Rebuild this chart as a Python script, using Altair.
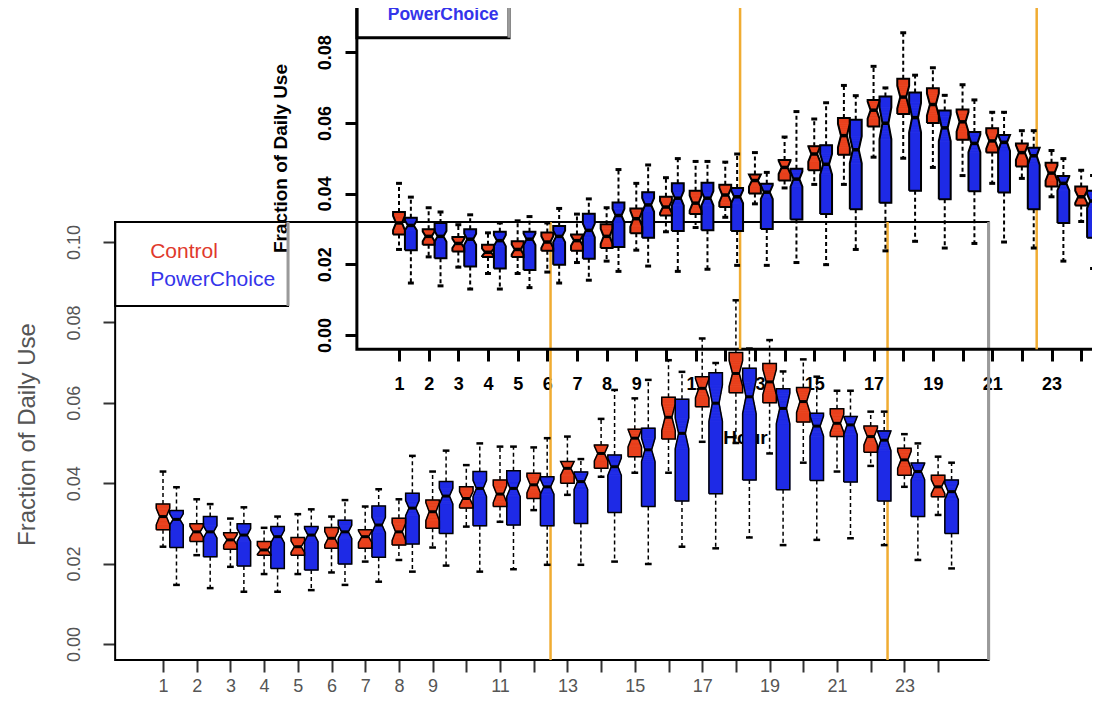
import altair as alt
import pandas as pd

# ---------------- data ----------------
hours = list(range(1, 25))

ctrl_lo  = [0.0242, 0.0221, 0.0192, 0.0174, 0.0174, 0.0178, 0.0205, 0.0209, 0.0240, 0.0292, 0.0304, 0.0333,
            0.0371, 0.0416, 0.0426, 0.0426, 0.0503, 0.0500, 0.0474, 0.0451, 0.0429, 0.0443, 0.0391, 0.0321]
ctrl_q1  = [0.0284, 0.0255, 0.0236, 0.0221, 0.0221, 0.0238, 0.0238, 0.0246, 0.0288, 0.0338, 0.0342, 0.0362,
            0.0400, 0.0437, 0.0466, 0.0510, 0.0590, 0.0625, 0.0600, 0.0552, 0.0516, 0.0477, 0.0420, 0.0366]
ctrl_med = [0.0317, 0.0279, 0.0259, 0.0234, 0.0242, 0.0263, 0.0267, 0.0279, 0.0329, 0.0362, 0.0373, 0.0396,
            0.0437, 0.0474, 0.0512, 0.0564, 0.0636, 0.0673, 0.0652, 0.0603, 0.0549, 0.0516, 0.0458, 0.0391]
ctrl_q3  = [0.0348, 0.0299, 0.0277, 0.0255, 0.0265, 0.0290, 0.0284, 0.0313, 0.0358, 0.0391, 0.0408, 0.0425,
            0.0454, 0.0495, 0.0534, 0.0614, 0.0665, 0.0725, 0.0698, 0.0638, 0.0585, 0.0542, 0.0487, 0.0420]
ctrl_hi  = [0.0429, 0.0360, 0.0312, 0.0289, 0.0323, 0.0317, 0.0342, 0.0360, 0.0429, 0.0445, 0.0491, 0.0489,
            0.0516, 0.0560, 0.0611, 0.0706, 0.0760, 0.0855, 0.0756, 0.0708, 0.0630, 0.0578, 0.0522, 0.0466]

pc_lo    = [0.0147, 0.0139, 0.0130, 0.0130, 0.0134, 0.0147, 0.0155, 0.0180, 0.0195, 0.0180, 0.0186, 0.0197,
            0.0197, 0.0205, 0.0199, 0.0242, 0.0238, 0.0265, 0.0246, 0.0259, 0.0263, 0.0246, 0.0209, 0.0188]
pc_q1    = [0.0240, 0.0217, 0.0194, 0.0188, 0.0184, 0.0199, 0.0216, 0.0249, 0.0275, 0.0294, 0.0296, 0.0294,
            0.0300, 0.0327, 0.0342, 0.0356, 0.0374, 0.0408, 0.0384, 0.0407, 0.0403, 0.0356, 0.0317, 0.0275]
pc_med   = [0.0310, 0.0279, 0.0271, 0.0267, 0.0271, 0.0279, 0.0296, 0.0338, 0.0368, 0.0387, 0.0387, 0.0391,
            0.0404, 0.0441, 0.0483, 0.0524, 0.0599, 0.0615, 0.0586, 0.0542, 0.0545, 0.0507, 0.0429, 0.0379]
pc_q3    = [0.0332, 0.0317, 0.0299, 0.0292, 0.0292, 0.0308, 0.0343, 0.0375, 0.0404, 0.0429, 0.0431, 0.0416,
            0.0428, 0.0470, 0.0537, 0.0609, 0.0675, 0.0686, 0.0635, 0.0574, 0.0566, 0.0530, 0.0450, 0.0408]
pc_hi    = [0.0390, 0.0348, 0.0340, 0.0317, 0.0335, 0.0358, 0.0385, 0.0468, 0.0481, 0.0499, 0.0491, 0.0512,
            0.0460, 0.0632, 0.0657, 0.0677, 0.0699, 0.0735, 0.0678, 0.0665, 0.0630, 0.0578, 0.0499, 0.0451]

groups = ["Control", "PowerChoice"]
event_hours = [12.5, 22.5]
x_ticks = hours
y_ticks = [0.0, 0.02, 0.04, 0.06, 0.08, 0.10]
x_title = "Hour"
y_title = "Fraction of Daily Use"

# ---------------- styles / layout ----------------
FONT = "Liberation Sans"
box_fill = {"Control": "#E8401C", "PowerChoice": "#1E2AE6"}
legend_color = {"Control": "#E0392B", "PowerChoice": "#3434EA"}
ORANGE = "#F0AC32"
W, H = 1084, 697
x_lim = [-0.42, 25.5]
y_lim = [-0.004, 0.105]
group_offset = {"Control": 0.0, "PowerChoice": 0.4}
HALF = 0.2
notch_k = {"Control": 0.32, "PowerChoice": 0.15}
legend_box_x = [x_lim[0], 4.71]
legend_box_y = [0.0841, y_lim[1]]
legend_text_x = 0.62
legend_text_y = [0.0975, 0.0905]
M = 6  # slices per half notch

stats = {
    "Control": (ctrl_lo, ctrl_q1, ctrl_med, ctrl_q3, ctrl_hi),
    "PowerChoice": (pc_lo, pc_q1, pc_med, pc_q3, pc_hi),
}

slice_rows, outline_rows, whisk_rows, med_rows = [], [], [], []
for g in groups:
    lo, q1, md, q3, hi = stats[g]
    for i, h in enumerate(hours):
        xc = h + group_offset[g]
        iqr = q3[i] - q1[i]
        nl = max(q1[i], md[i] - notch_k[g] * iqr)
        nh = min(q3[i], md[i] + notch_k[g] * iqr)
        segs = [(q1[i], nl, 1.0)]
        for j in range(M):
            ya = nl + (md[i] - nl) * j / M
            yb = nl + (md[i] - nl) * (j + 1) / M
            segs.append((ya, yb, 1 - 0.5 * (j + 0.5) / M))
        for j in range(M):
            ya = md[i] + (nh - md[i]) * j / M
            yb = md[i] + (nh - md[i]) * (j + 1) / M
            segs.append((ya, yb, 0.5 + 0.5 * (j + 0.5) / M))
        segs.append((nh, q3[i], 1.0))
        for ya, yb, f in segs:
            slice_rows.append(dict(ya=ya, yb=yb, xa=xc - HALF * f, xb=xc + HALF * f, fill=box_fill[g]))
        pts = [(-1, q1[i]), (-1, nl), (-0.5, md[i]), (-1, nh), (-1, q3[i]),
               (1, q3[i]), (1, nh), (0.5, md[i]), (1, nl), (1, q1[i]), (-1, q1[i])]
        for k, (f, yy) in enumerate(pts):
            outline_rows.append(dict(box=f"{g}-{h}", k=k, ox=xc + HALF * f, oy=yy))
        for a, b in [(q3[i], hi[i]), (q1[i], lo[i])]:
            whisk_rows.append(dict(xc=xc, y0=a, y1=b, cl=xc - HALF / 2, cr=xc + HALF / 2))
        med_rows.append(dict(ml=xc - HALF / 2, mr=xc + HALF / 2, med=md[i]))

slice_df = pd.DataFrame(slice_rows)
outline_df = pd.DataFrame(outline_rows)
whisk_df = pd.DataFrame(whisk_rows)
med_df = pd.DataFrame(med_rows)
frame_df = pd.DataFrame({"x0": [x_lim[0]], "x1": [x_lim[1]], "y0": [y_lim[0]], "y1": [y_lim[1]]})
event_df = pd.DataFrame({"ev": event_hours, "y0": [y_lim[0]] * 2, "y1": [y_lim[1]] * 2})
legbox_df = pd.DataFrame({"x0": [legend_box_x[0]], "x1": [legend_box_x[1]],
                          "y0": [legend_box_y[0]], "y1": [legend_box_y[1]]})
legtext_df = pd.DataFrame({"lx": [legend_text_x] * 2, "ly": legend_text_y, "label": groups,
                           "col": [legend_color[g] for g in groups]})


def make_scales(px0, dx, py0, dy):
    xdom = [1 - px0 / dx, 1 + (W - px0) / dx]
    ydom = [(py0 - H) / dy, py0 / dy]
    return (alt.Scale(domain=xdom, nice=False, zero=False),
            alt.Scale(domain=ydom, nice=False, zero=False))


def make_copy(xs, ys, st):
    xaxis = alt.Axis(orient="bottom", offset=st["x_off"], values=x_ticks, grid=False, domain=False,
                     tickSize=st["tick_size"], tickWidth=st["tick_w"], tickColor=st["tick_color"],
                     labelExpr="(datum.value >= 10 && datum.value % 2 == 0) ? '' : datum.label",
                     labelOverlap=False, labelFont=FONT, labelFontSize=st["label_size"],
                     labelFontWeight=st["weight"], labelColor=st["label_color"],
                     labelPadding=st["x_label_pad"],
                     title=st["x_title"], titleFont=FONT, titleFontSize=st["x_title_size"],
                     titleFontWeight=st["weight"], titleColor=st["label_color"],
                     titleX=st["x_title_x"], titleY=st["x_title_y"], titleAlign="center",
                     titleBaseline="middle")
    yaxis = alt.Axis(orient="left", offset=st["y_off"], values=y_ticks, format=".2f", grid=False,
                     domain=False, tickSize=st["tick_size"], tickWidth=st["tick_w"],
                     tickColor=st["tick_color"], labelAngle=270, labelAlign="center",
                     labelBaseline="bottom", labelPadding=st["y_label_pad"], labelFont=FONT,
                     labelFontSize=st["label_size"], labelFontWeight=st["weight"],
                     labelColor=st["label_color"], title=y_title, titleFont=FONT,
                     titleFontSize=st["title_size"], titleFontWeight=st["weight"],
                     titleColor=st["label_color"], titleAngle=270, titleX=st["y_title_x"],
                     titleY=st["y_title_y"], titleAlign="center", titleBaseline="middle")

    def X(f):
        return alt.X(f"{f}:Q", scale=xs, axis=xaxis)

    def Y(f):
        return alt.Y(f"{f}:Q", scale=ys, axis=yaxis)

    frame = alt.Chart(frame_df).mark_rect(fill="transparent", stroke="black",
                                          strokeWidth=st["frame_w"], clip=True).encode(
        x=X("x0"), x2="x1:Q", y=Y("y0"), y2="y1:Q")

    shadow = alt.Chart(frame_df).mark_rule(color="#9a9a9a", strokeWidth=st["shadow_w"], clip=True).encode(
        x=X("x1"), y=Y("y0"), y2="y1:Q")

    events = alt.Chart(event_df).mark_rule(color=ORANGE, strokeWidth=st["orange_w"], clip=True).encode(
        x=X("ev"), y=Y("y0"), y2="y1:Q")

    whiskers = alt.Chart(whisk_df).mark_rule(color="black", strokeWidth=st["whisk_w"],
                                             strokeDash=[4, 3], clip=True).encode(
        x=X("xc"), y=Y("y0"), y2="y1:Q")

    caps = alt.Chart(whisk_df).mark_rule(color="black", strokeWidth=st["cap_w"], clip=True).encode(
        x=X("cl"), x2="cr:Q", y=Y("y1"))

    fills = alt.Chart(slice_df).mark_rect(clip=True, strokeWidth=0.8).encode(
        x=X("xa"), x2="xb:Q", y=Y("ya"), y2="yb:Q",
        fill=alt.Fill("fill:N", scale=None), stroke=alt.Stroke("fill:N", scale=None))

    outlines = alt.Chart(outline_df).mark_line(color="black", strokeWidth=st["box_w"],
                                               strokeJoin="miter", clip=True).encode(
        x=X("ox"), y=Y("oy"), detail="box:N", order="k:Q")

    medians = alt.Chart(med_df).mark_rule(color="black", strokeWidth=st["med_w"], clip=True).encode(
        x=X("ml"), x2="mr:Q", y=Y("med"))

    legbox = alt.Chart(legbox_df).mark_rect(fill="transparent", stroke="black",
                                            strokeWidth=st["frame_w"], clip=True).encode(
        x=X("x0"), x2="x1:Q", y=Y("y0"), y2="y1:Q")

    legshadow = alt.Chart(legbox_df).mark_rule(color="#9a9a9a", strokeWidth=st["shadow_w"],
                                               clip=True).encode(
        x=X("x1"), y=Y("y0"), y2="y1:Q")

    legtext = alt.Chart(legtext_df).mark_text(align="left", baseline="middle", font=FONT,
                                              fontSize=st["legend_size"], fontWeight=st["weight"],
                                              clip=True).encode(
        x=X("lx"), y=Y("ly"), text="label:N", color=alt.Color("col:N", scale=None))

    return alt.layer(frame, shadow, events, whiskers, caps, fills, outlines, medians,
                     legbox, legshadow, legtext)


bottom_style = dict(frame_w=2, shadow_w=3, tick_w=2, tick_color="#333333", tick_size=12, box_w=1.5,
                    whisk_w=1.5, cap_w=2.5, med_w=3, orange_w=2.5, label_size=18, weight="normal",
                    label_color="#555555", title_size=24, x_title_size=20, legend_size=21,
                    x_label_pad=5, y_label_pad=20, x_off=-45, y_off=-107, x_title="", x_title_x=0,
                    x_title_y=0, y_title_x=-88, y_title_y=426)
top_style = dict(frame_w=3, shadow_w=3, tick_w=3, tick_color="black", tick_size=12, box_w=2,
                 whisk_w=2, cap_w=3, med_w=3.5, orange_w=2.5, label_size=18, weight="bold",
                 label_color="black", title_size=19, x_title_size=19, legend_size=17.5,
                 x_label_pad=14, y_label_pad=11, x_off=-356, y_off=-349, x_title=x_title,
                 x_title_x=737, x_title_y=88, y_title_x=-77, y_title_y=150)

xs_b, ys_b = make_scales(155, 33.7, 636, 4020)
xs_t, ys_t = make_scales(391, 29.66, 327, 3535)

chart = alt.layer(
    make_copy(xs_b, ys_b, bottom_style),
    make_copy(xs_t, ys_t, top_style),
).resolve_scale(x="independent", y="independent").properties(
    width=W, height=H, autosize=alt.AutoSizeParams(type="none"), padding=0,
    background="white",
).configure_view(strokeWidth=0)

chart.save("out.html", embed_options={"renderer": "svg", "actions": False})
